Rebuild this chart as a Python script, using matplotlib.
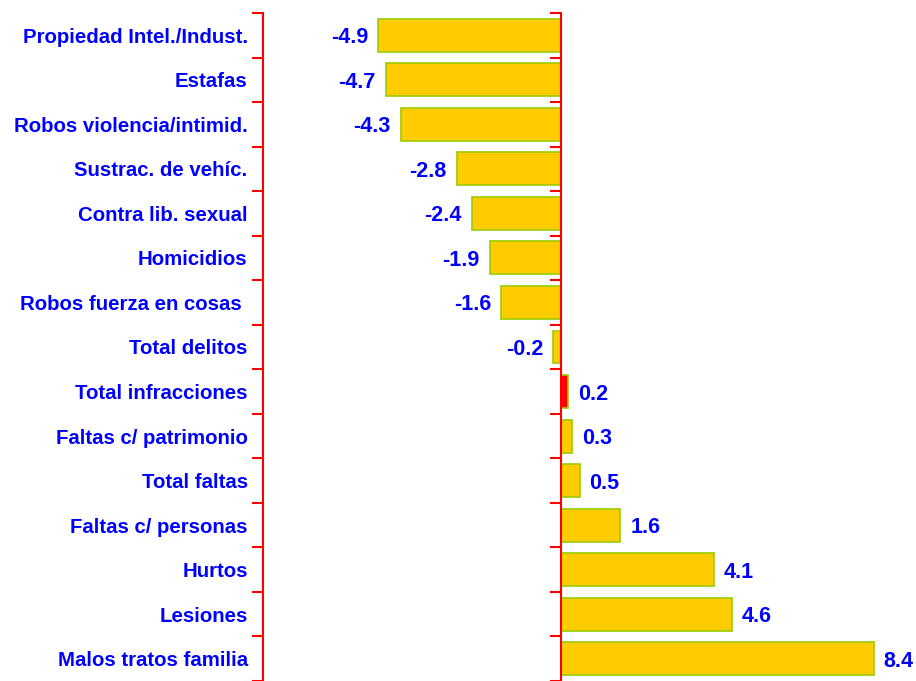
import matplotlib
matplotlib.use("Agg")
import matplotlib.pyplot as plt
import numpy as np

categories = ["Propiedad Intel./Indust.", "Estafas", "Robos violencia/intimid.",
              "Sustrac. de vehíc.", "Contra lib. sexual", "Homicidios",
              "Robos fuerza en cosas ", "Total delitos", "Total infracciones",
              "Faltas c/ patrimonio", "Total faltas", "Faltas c/ personas",
              "Hurtos", "Lesiones", "Malos tratos familia"]
values = [-4.9, -4.7, -4.3, -2.8, -2.4, -1.9, -1.6, -0.2, 0.2, 0.3, 0.5, 1.6, 4.1, 4.6, 8.4]
highlight = "Total infracciones"

plt.rcParams['font.family'] = ['Liberation Sans', 'DejaVu Sans']

fig = plt.figure(figsize=(9.16, 6.81), dpi=100)
ax = fig.add_axes([263/916, 0.0, (896-263)/916, 668/681])

y = np.arange(len(categories))
colors = ["#FF0000" if c == highlight else "#FFCC00" for c in categories]
ax.barh(y, values, height=0.74, color=colors, edgecolor="#99CC00", linewidth=1.2, zorder=2)

ax.set_xlim(-8, 9)
ax.set_ylim(len(categories) - 0.5, -0.5)

for s in ["top", "right", "bottom"]:
    ax.spines[s].set_visible(False)
ax.spines["left"].set_color("#FF0000")
ax.spines["left"].set_linewidth(1.5)
ax.set_xticks([])
ax.set_yticks(y)
ax.set_yticklabels(categories, color="#0000FF", fontweight="bold", fontsize=14.7)
ax.set_yticks(np.arange(len(categories) + 1) - 0.5, minor=True)
ax.tick_params(axis="y", which="major", length=0, pad=11)
ax.tick_params(axis="y", which="minor", length=8, width=1.5, color="#FF0000", direction="out")

# zero line with its own ticks
ax2 = ax.twinx()
ax2.set_ylim(ax.get_ylim())
for s in ["top", "right", "bottom"]:
    ax2.spines[s].set_visible(False)
ax2.spines["left"].set_position(("data", 0))
ax2.spines["left"].set_color("#FF0000")
ax2.spines["left"].set_linewidth(1.5)
ax2.yaxis.set_ticks_position("left")
ax2.set_yticks(np.arange(len(categories) + 1) - 0.5)
ax2.set_yticklabels([])
ax2.tick_params(axis="y", length=8, width=1.5, color="#FF0000", direction="out")
ax2.set_zorder(ax.get_zorder() + 1)
ax2.patch.set_visible(False)

for yi, v in zip(y, values):
    ax.annotate(f"{v:.1f}", xy=(v, yi), xytext=(-7.5 if v < 0 else 7, 0),
                textcoords="offset points", ha="right" if v < 0 else "left",
                va="center_baseline", color="#0000FF", fontweight="bold", fontsize=15.5)

fig.savefig("out.png", dpi=100)
